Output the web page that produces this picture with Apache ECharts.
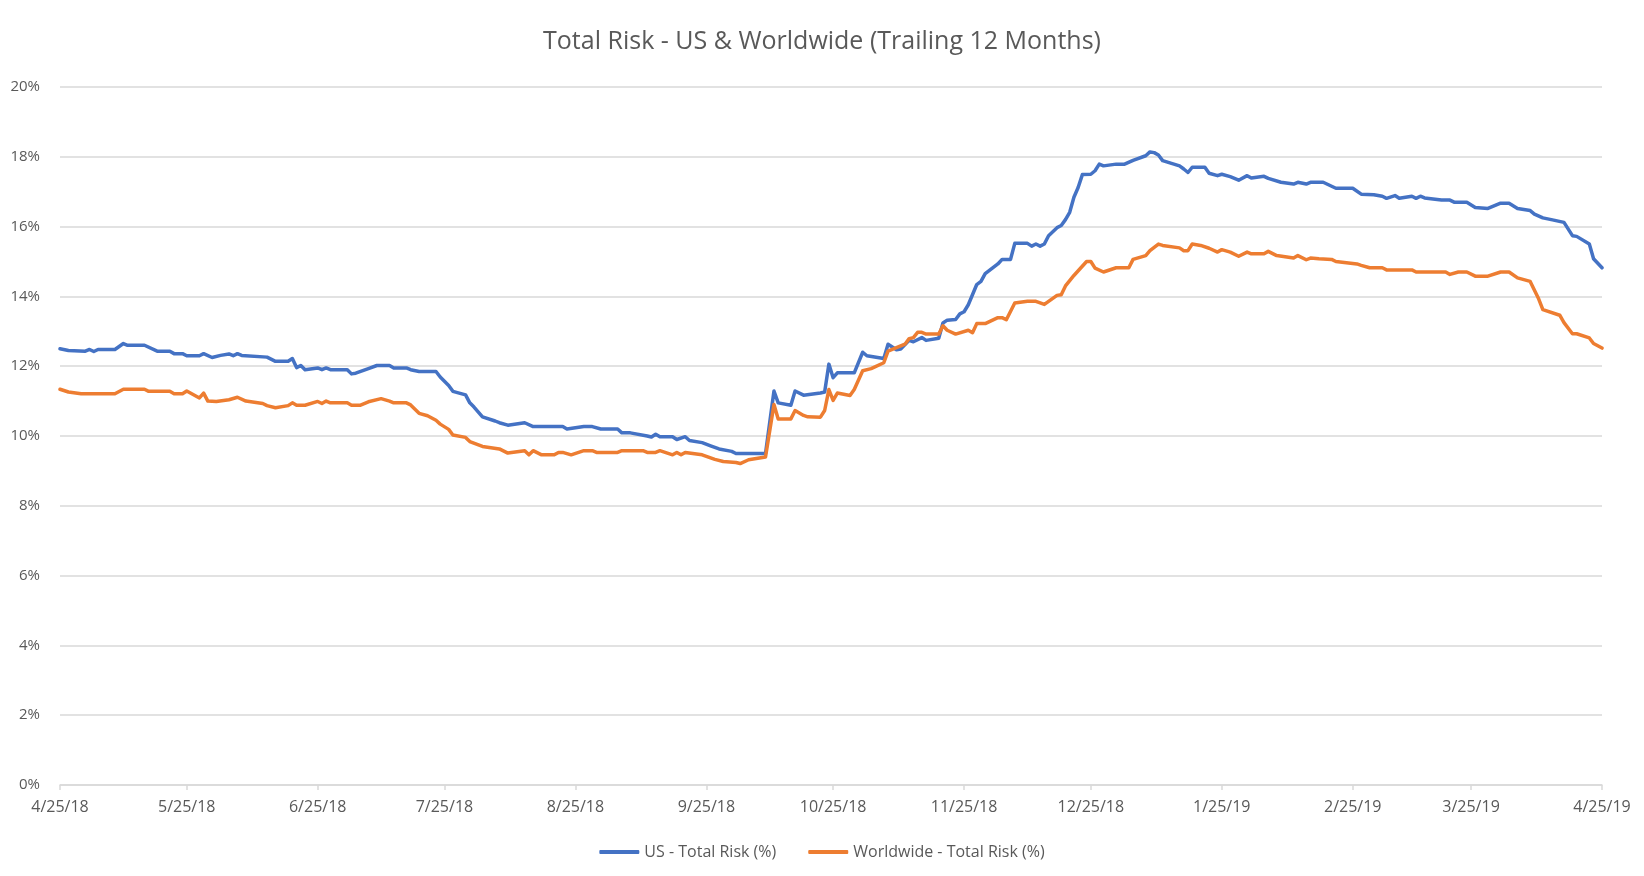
<!DOCTYPE html>
<html>
<head>
<meta charset="utf-8">
<script src="https://cdn.jsdelivr.net/npm/echarts@6/dist/echarts.min.js"></script>
<style>
html,body{margin:0;padding:0;background:#fff;}
#chart{width:1644px;height:876px;}
</style>
</head>
<body>
<div id="chart"></div>
<script>
const titleText = 'Total Risk - US & Worldwide (Trailing 12 Months)';
const seriesNames = ['US - Total Risk (%)', 'Worldwide - Total Risk (%)'];
const tickDates = ['2018-04-25','2018-05-25','2018-06-25','2018-07-25','2018-08-25','2018-09-25','2018-10-25','2018-11-25','2018-12-25','2019-01-25','2019-02-25','2019-03-25','2019-04-25'];
const tickLabels = ['4/25/18','5/25/18','6/25/18','7/25/18','8/25/18','9/25/18','10/25/18','11/25/18','12/25/18','1/25/19','2/25/19','3/25/19','4/25/19'];

const usDates = ['2018-04-25','2018-04-27','2018-05-01','2018-05-02','2018-05-03','2018-05-04','2018-05-08','2018-05-10','2018-05-11','2018-05-15','2018-05-18','2018-05-21','2018-05-22','2018-05-24','2018-05-25','2018-05-28','2018-05-29','2018-05-31','2018-06-02','2018-06-04','2018-06-05','2018-06-06','2018-06-07','2018-06-13','2018-06-15','2018-06-18','2018-06-19','2018-06-20','2018-06-21','2018-06-22','2018-06-25','2018-06-26','2018-06-27','2018-06-28','2018-07-02','2018-07-03','2018-07-04','2018-07-07','2018-07-09','2018-07-12','2018-07-13','2018-07-16','2018-07-17','2018-07-19','2018-07-23','2018-07-24','2018-07-26','2018-07-27','2018-07-30','2018-07-31','2018-08-01','2018-08-03','2018-08-06','2018-08-07','2018-08-09','2018-08-13','2018-08-15','2018-08-22','2018-08-23','2018-08-27','2018-08-29','2018-08-31','2018-09-04','2018-09-05','2018-09-07','2018-09-11','2018-09-12','2018-09-13','2018-09-14','2018-09-17','2018-09-18','2018-09-20','2018-09-21','2018-09-24','2018-09-26','2018-09-28','2018-10-01','2018-10-02','2018-10-09','2018-10-11','2018-10-12','2018-10-15','2018-10-16','2018-10-18','2018-10-22','2018-10-23','2018-10-24','2018-10-25','2018-10-26','2018-10-30','2018-11-01','2018-11-02','2018-11-06','2018-11-07','2018-11-09','2018-11-10','2018-11-12','2018-11-13','2018-11-15','2018-11-16','2018-11-19','2018-11-20','2018-11-21','2018-11-23','2018-11-24','2018-11-25','2018-11-26','2018-11-28','2018-11-29','2018-11-30','2018-12-03','2018-12-04','2018-12-06','2018-12-07','2018-12-10','2018-12-11','2018-12-12','2018-12-13','2018-12-14','2018-12-15','2018-12-17','2018-12-18','2018-12-19','2018-12-20','2018-12-21','2018-12-22','2018-12-23','2018-12-25','2018-12-26','2018-12-27','2018-12-28','2018-12-31','2019-01-02','2019-01-04','2019-01-07','2019-01-08','2019-01-09','2019-01-10','2019-01-11','2019-01-15','2019-01-16','2019-01-17','2019-01-18','2019-01-21','2019-01-22','2019-01-24','2019-01-25','2019-01-27','2019-01-29','2019-01-31','2019-02-01','2019-02-04','2019-02-05','2019-02-08','2019-02-11','2019-02-12','2019-02-14','2019-02-15','2019-02-18','2019-02-21','2019-02-25','2019-02-27','2019-03-02','2019-03-04','2019-03-05','2019-03-07','2019-03-08','2019-03-11','2019-03-12','2019-03-13','2019-03-14','2019-03-18','2019-03-20','2019-03-21','2019-03-24','2019-03-26','2019-03-29','2019-04-01','2019-04-03','2019-04-05','2019-04-08','2019-04-09','2019-04-11','2019-04-13','2019-04-16','2019-04-18','2019-04-19','2019-04-22','2019-04-23','2019-04-25'];
const usValues = [12.50,12.45,12.43,12.48,12.42,12.48,12.48,12.65,12.60,12.60,12.43,12.43,12.36,12.36,12.30,12.30,12.36,12.25,12.31,12.35,12.30,12.36,12.31,12.26,12.14,12.14,12.22,11.96,12.02,11.90,11.95,11.90,11.95,11.90,11.90,11.78,11.80,11.93,12.02,12.02,11.95,11.95,11.90,11.85,11.85,11.69,11.45,11.28,11.18,10.95,10.83,10.55,10.43,10.38,10.31,10.38,10.27,10.27,10.20,10.27,10.27,10.20,10.20,10.09,10.09,10.00,9.97,10.05,9.98,9.98,9.90,9.98,9.87,9.81,9.72,9.63,9.56,9.50,9.50,11.29,10.95,10.88,11.29,11.17,11.23,11.26,12.06,11.67,11.81,11.81,12.40,12.30,12.22,12.63,12.47,12.49,12.74,12.70,12.82,12.74,12.80,13.24,13.32,13.34,13.50,13.56,13.76,14.34,14.43,14.65,14.93,15.06,15.06,15.52,15.52,15.44,15.50,15.44,15.50,15.74,15.97,16.03,16.20,16.41,16.84,17.12,17.49,17.50,17.60,17.79,17.74,17.79,17.79,17.90,18.03,18.14,18.12,18.05,17.89,17.74,17.65,17.55,17.70,17.70,17.53,17.46,17.50,17.43,17.33,17.46,17.39,17.44,17.38,17.27,17.22,17.27,17.22,17.27,17.27,17.10,17.10,16.93,16.91,16.87,16.81,16.89,16.81,16.87,16.81,16.87,16.82,16.76,16.76,16.70,16.70,16.55,16.52,16.67,16.67,16.52,16.46,16.36,16.25,16.20,16.12,15.74,15.72,15.50,15.08,14.82];

const wwDates = ['2018-04-25','2018-04-27','2018-04-30','2018-05-08','2018-05-10','2018-05-15','2018-05-16','2018-05-21','2018-05-22','2018-05-24','2018-05-25','2018-05-28','2018-05-29','2018-05-30','2018-06-01','2018-06-04','2018-06-06','2018-06-08','2018-06-12','2018-06-13','2018-06-15','2018-06-18','2018-06-19','2018-06-20','2018-06-22','2018-06-25','2018-06-26','2018-06-27','2018-06-28','2018-07-02','2018-07-03','2018-07-05','2018-07-07','2018-07-10','2018-07-12','2018-07-13','2018-07-16','2018-07-17','2018-07-19','2018-07-21','2018-07-23','2018-07-24','2018-07-26','2018-07-27','2018-07-30','2018-07-31','2018-08-03','2018-08-07','2018-08-09','2018-08-13','2018-08-14','2018-08-15','2018-08-17','2018-08-20','2018-08-21','2018-08-22','2018-08-24','2018-08-27','2018-08-29','2018-08-30','2018-09-04','2018-09-05','2018-09-10','2018-09-11','2018-09-13','2018-09-14','2018-09-17','2018-09-18','2018-09-19','2018-09-20','2018-09-24','2018-09-27','2018-09-29','2018-10-02','2018-10-03','2018-10-05','2018-10-09','2018-10-11','2018-10-12','2018-10-15','2018-10-16','2018-10-18','2018-10-19','2018-10-22','2018-10-23','2018-10-24','2018-10-25','2018-10-26','2018-10-29','2018-10-30','2018-11-01','2018-11-03','2018-11-06','2018-11-07','2018-11-08','2018-11-11','2018-11-12','2018-11-13','2018-11-14','2018-11-15','2018-11-16','2018-11-19','2018-11-20','2018-11-21','2018-11-23','2018-11-26','2018-11-27','2018-11-28','2018-11-30','2018-12-03','2018-12-04','2018-12-05','2018-12-07','2018-12-10','2018-12-12','2018-12-14','2018-12-17','2018-12-18','2018-12-19','2018-12-21','2018-12-24','2018-12-25','2018-12-26','2018-12-28','2018-12-31','2019-01-03','2019-01-04','2019-01-07','2019-01-08','2019-01-10','2019-01-11','2019-01-15','2019-01-16','2019-01-17','2019-01-18','2019-01-20','2019-01-22','2019-01-24','2019-01-25','2019-01-27','2019-01-29','2019-01-31','2019-02-01','2019-02-04','2019-02-05','2019-02-07','2019-02-11','2019-02-12','2019-02-14','2019-02-15','2019-02-17','2019-02-20','2019-02-21','2019-02-26','2019-02-27','2019-03-01','2019-03-04','2019-03-05','2019-03-11','2019-03-12','2019-03-19','2019-03-20','2019-03-22','2019-03-24','2019-03-26','2019-03-29','2019-04-01','2019-04-03','2019-04-05','2019-04-08','2019-04-10','2019-04-11','2019-04-15','2019-04-16','2019-04-18','2019-04-19','2019-04-22','2019-04-23','2019-04-25'];
const wwValues = [11.34,11.26,11.21,11.21,11.34,11.34,11.28,11.28,11.21,11.21,11.29,11.09,11.23,11.00,10.99,11.04,11.11,11.00,10.93,10.87,10.81,10.87,10.95,10.88,10.88,10.99,10.93,11.00,10.95,10.95,10.88,10.88,10.98,11.07,11.00,10.95,10.95,10.89,10.65,10.58,10.45,10.34,10.19,10.03,9.96,9.84,9.70,9.63,9.51,9.58,9.46,9.58,9.46,9.46,9.53,9.53,9.46,9.58,9.58,9.53,9.53,9.58,9.58,9.53,9.53,9.58,9.46,9.53,9.46,9.53,9.46,9.33,9.27,9.24,9.21,9.32,9.40,10.90,10.49,10.49,10.73,10.59,10.55,10.54,10.73,11.33,11.02,11.23,11.16,11.33,11.87,11.93,12.10,12.43,12.48,12.63,12.79,12.82,12.97,12.97,12.92,12.92,13.16,13.03,12.92,13.03,12.96,13.22,13.22,13.39,13.39,13.33,13.81,13.86,13.86,13.77,14.03,14.05,14.30,14.60,15.00,15.00,14.81,14.70,14.82,14.82,15.06,15.17,15.31,15.50,15.46,15.39,15.31,15.31,15.50,15.46,15.38,15.27,15.34,15.27,15.15,15.27,15.22,15.22,15.29,15.17,15.10,15.17,15.05,15.10,15.08,15.06,15.00,14.93,14.89,14.82,14.82,14.76,14.76,14.70,14.70,14.63,14.70,14.70,14.58,14.58,14.70,14.70,14.53,14.43,13.93,13.62,13.46,13.25,12.93,12.93,12.81,12.65,12.52];

const yTicks = [0, 2, 4, 6, 8, 10, 12, 14, 16, 18, 20];

// Day offset from the first tick date (a linear date scale, one unit per calendar day)
function dayIndex(s) {
  const p = s.split('-').map(Number);
  const q = tickDates[0].split('-').map(Number);
  return Math.round((Date.UTC(p[0], p[1] - 1, p[2]) - Date.UTC(q[0], q[1] - 1, q[2])) / 86400000);
}
const tickDays = tickDates.map(dayIndex);
const pair = (ds, vs) => ds.map((d, i) => [dayIndex(d), vs[i]]);

const FONT = 'Open Sans';
const chart = echarts.init(document.getElementById('chart'), null, {renderer: 'canvas'});
chart.setOption({
  animation: false,
  backgroundColor: '#ffffff',
  title: {
    text: titleText,
    left: 'center',
    top: 24,
    textStyle: {color: '#595959', fontFamily: FONT, fontWeight: 'normal', fontSize: 25}
  },
  legend: {
    bottom: 11,
    left: 'center',
    itemWidth: 40,
    itemHeight: 4,
    itemGap: 32,
    icon: 'roundRect',
    textStyle: {color: '#595959', fontFamily: FONT, fontSize: 16},
    data: seriesNames
  },
  grid: {left: 60, right: 42, top: 87, bottom: 91, containLabel: false},
  xAxis: {
    type: 'value',
    min: tickDays[0],
    max: tickDays[tickDays.length - 1],
    axisLine: {show: true, lineStyle: {color: '#d9d9d9', width: 1.5}},
    axisTick: {show: true, length: 5, customValues: tickDays, lineStyle: {color: '#d9d9d9', width: 1.5}},
    axisLabel: {
      customValues: tickDays,
      color: '#595959', fontFamily: FONT, fontSize: 16, margin: 14,
      formatter: function (v) {
        const i = tickDays.indexOf(Math.round(v));
        return i >= 0 ? tickLabels[i] : '';
      }
    },
    splitLine: {show: false}
  },
  yAxis: {
    type: 'value',
    min: yTicks[0],
    max: yTicks[yTicks.length - 1],
    interval: 2,
    axisLine: {show: false},
    axisTick: {show: false},
    axisLabel: {color: '#595959', fontFamily: FONT, fontSize: 15, margin: 20, formatter: '{value}%'},
    splitLine: {lineStyle: {color: '#d9d9d9', width: 1.5}}
  },
  series: [
    {
      name: seriesNames[0], type: 'line', data: pair(usDates, usValues),
      showSymbol: false, symbol: 'none',
      lineStyle: {color: '#4472C4', width: 3.5, join: 'round', cap: 'round'},
      itemStyle: {color: '#4472C4'}
    },
    {
      name: seriesNames[1], type: 'line', data: pair(wwDates, wwValues),
      showSymbol: false, symbol: 'none',
      lineStyle: {color: '#ED7D31', width: 3.5, join: 'round', cap: 'round'},
      itemStyle: {color: '#ED7D31'}
    }
  ]
});
</script>
</body>
</html>
